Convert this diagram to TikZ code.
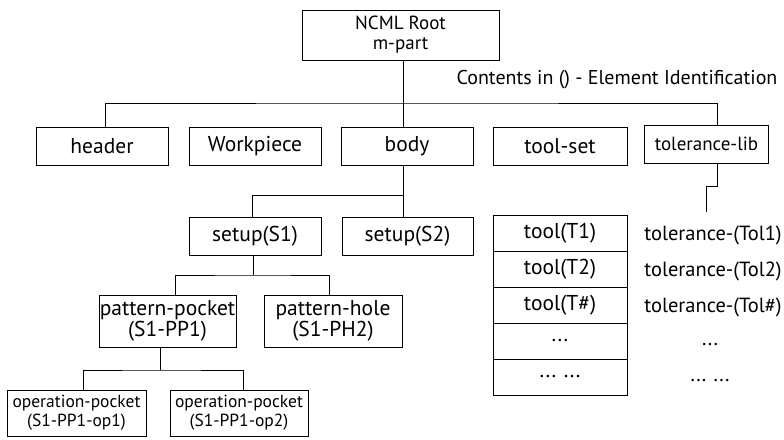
\documentclass[tikz,border=0pt]{standalone}
\usepackage{fontspec}
\setmainfont{PT Sans}
\usepackage{tikz}

\tikzset{
  elem/.style={draw, line width=0.9pt, inner sep=0.75pt, align=center, font=\fontsize{21.5}{21}\selectfont},
  elemtwo/.style={elem, font=\fontsize{21.5}{21}\selectfont},
  toolrow/.style={elem, minimum width=134pt, minimum height=36pt},
  tollabel/.style={inner sep=0.75pt, font=\fontsize{20.5}{20}\selectfont},
  link/.style={line width=0.9pt}
}

\begin{document}
\begin{tikzpicture}[x=1pt,y=1pt,yscale=-1,xscale=1]
\useasboundingbox (0,0) rectangle (784,439);

% Root
\node [elem, font=\fontsize{19}{20}\selectfont, minimum width=197pt, minimum height=50pt] (root) at (400.5,35) {NCML Root\\m-part};
% Text Node
\node [tollabel, font=\fontsize{20}{20}\selectfont] (note) at (617,80) {Contents in () - Element Identification};

% First level
\node [elem, minimum width=132pt, minimum height=38pt] (header) at (102,146) {header};
\node [elem, minimum width=132pt, minimum height=38pt] (workpiece) at (255,146) {Workpiece};
\node [elem, minimum width=132pt, minimum height=38pt] (body) at (407,146) {body};
\node [elem, minimum width=134pt, minimum height=38pt] (toolset) at (560,146) {tool-set};
\node [elem, font=\fontsize{19}{20}\selectfont, minimum width=124pt, minimum height=38pt] (tollib) at (706.5,144) {tolerance-lib};

% Setups
\node [elem, minimum width=132pt, minimum height=38pt] (setupA) at (255,236) {setup(S1)};
\node [elem, minimum width=131pt, minimum height=38pt] (setupB) at (407.5,236) {setup(S2)};

% Patterns
\node [elemtwo, minimum width=131pt, minimum height=52pt] (ppocket) at (167.5,321) {pattern-pocket\\(S1-PP1)};
\node [elemtwo, minimum width=138pt, minimum height=52pt] (phole) at (333,321) {pattern-hole\\(S1-PH2)};

% Operations
\node [elemtwo, font=\fontsize{17.5}{19}\selectfont, minimum width=139pt, minimum height=46pt] (opA) at (76.5,413) {operation-pocket\\(S1-PP1-op1)};
\node [elemtwo, font=\fontsize{17.5}{19}\selectfont, minimum width=138pt, minimum height=46pt] (opB) at (239,413) {operation-pocket\\(S1-PP1-op2)};

% Tool stack
\node [toolrow] (toolA) at (560,233) {tool(T1)};
\node [toolrow] (toolB) at (560,269) {tool(T2)};
\node [toolrow] (toolC) at (560,305) {tool(T\#)};
\node [toolrow] (toolD) at (560,341) {...};
\node [toolrow] (toolE) at (560,377) {... ...};

% Tolerances
\node [tollabel] (tolA) at (713,235) {tolerance-(Tol1)};
\node [tollabel] (tolB) at (713,271) {tolerance-(Tol2)};
\node [tollabel] (tolC) at (713,307) {tolerance-(Tol\#)};
\node [tollabel] (tolD) at (710,345) {...};
\node [tollabel] (tolE) at (710,381) {... ...};

% Junctions
\coordinate (busR) at (403,103);
\coordinate (busB) at (403,195);
\coordinate (busS) at (253,275);
\coordinate (busP) at (160,370);
\coordinate (tolbend) at (717,186);
\coordinate (tolend) at (706,212);

%Straight Lines
\draw [link] (root.south -| busR) -- (body.north -| busR) ;
\draw [link] ([xshift=3pt]header.north) |- (busR) -| ([xshift=10.5pt]tollib.north) ;
%Straight Lines
\draw [link] (body.south -| busB) -- (setupB.north -| busB) ;
\draw [link] (busB) -| ([xshift=-3pt]setupA.north) ;
%Straight Lines
\draw [link] (setupA.south -| busS) -- (busS) ;
\draw [link] ([xshift=7.5pt]ppocket.north) |- (busS) -| ([xshift=-4pt]phole.north) ;
%Straight Lines
\draw [link] (ppocket.south -| busP) -- (busP) ;
\draw [link] ([xshift=6.5pt]opA.north) |- (busP) -| ([xshift=4pt]opB.north) ;
%Straight Lines
\draw [link] (tollib.south -| tolbend) -- (tolbend) -| (tolend) ;

\end{tikzpicture}
\end{document}
